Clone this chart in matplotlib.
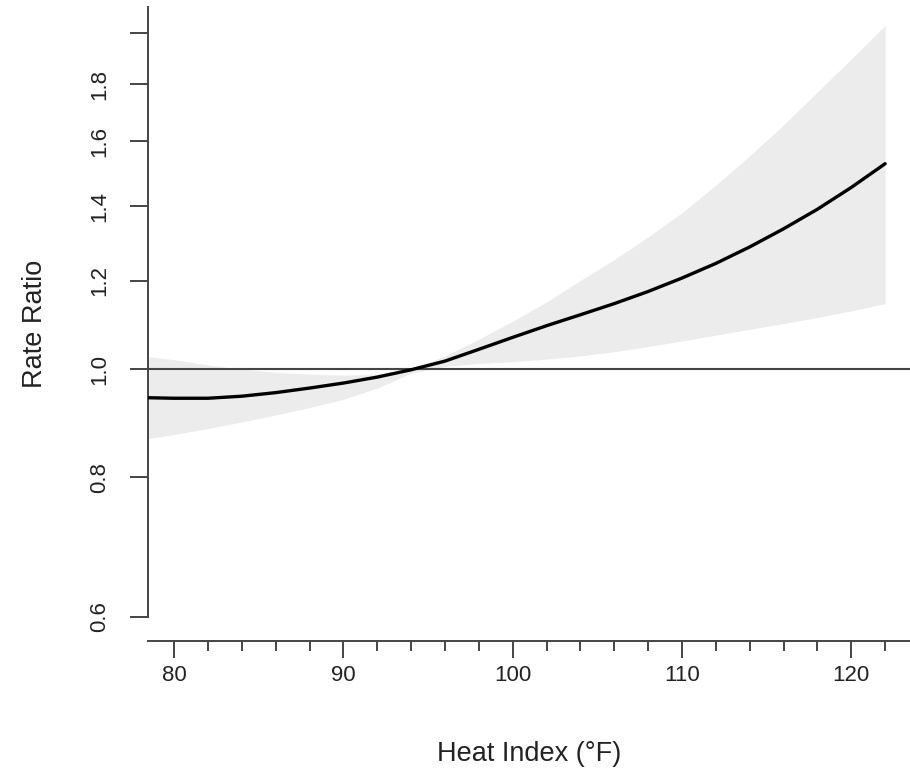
import matplotlib
matplotlib.use("Agg")
import matplotlib.pyplot as plt
from matplotlib.ticker import FixedLocator, NullLocator, FixedFormatter

plt.rcParams['font.family'] = ['Liberation Sans', 'DejaVu Sans']

# estimated rate ratio curve and 95% CI
heat_index = [78.5, 80, 82, 84, 86, 88, 90, 92, 94, 96, 98, 100, 102, 104,
              106, 108, 110, 112, 114, 116, 118, 120, 122]
rr = [0.943, 0.942, 0.942, 0.946, 0.953, 0.962, 0.972, 0.984, 0.999, 1.017,
      1.042, 1.068, 1.094, 1.119, 1.145, 1.174, 1.207, 1.244, 1.287, 1.336,
      1.391, 1.455, 1.528]
rr_upper = [1.026, 1.020, 1.009, 1.000, 0.994, 0.990, 0.988, 0.990, 1.000,
            1.028, 1.064, 1.104, 1.149, 1.201, 1.254, 1.314, 1.381, 1.462,
            1.553, 1.655, 1.772, 1.896, 2.032]
rr_lower = [0.867, 0.874, 0.885, 0.897, 0.910, 0.924, 0.940, 0.962, 0.992,
            1.006, 1.012, 1.016, 1.021, 1.028, 1.037, 1.048, 1.060, 1.073,
            1.086, 1.099, 1.113, 1.128, 1.145]

y_ticks = [0.6, 0.8, 1.0, 1.2, 1.4, 1.6, 1.8, 2.0]
y_labels = ["0.6", "0.8", "1.0", "1.2", "1.4", "1.6", "1.8", ""]
x_ticks = [80, 90, 100, 110, 120]
x_minor = [82, 84, 86, 88, 92, 94, 96, 98, 102, 104, 106, 108, 112, 114,
           116, 118, 122]

axis_col = "#444444"
text_col = "#222222"

fig = plt.figure(figsize=(9.1, 7.75), dpi=100)
ax = fig.add_axes([148 / 910, 1 - 641 / 775, 1 - 148 / 910, (641 - 7) / 775])

ax.fill_between(heat_index, rr_lower, rr_upper, color="#ececec", lw=0)
ax.axhline(1.0, color=axis_col, lw=1.5, zorder=2)
ax.plot(heat_index, rr, color="black", lw=2.4, solid_capstyle="round", zorder=3)

ax.set_yscale("log")
ax.set_xlim(78.46, 123.47)
ax.set_ylim(0.571, 2.111)

ax.yaxis.set_major_locator(FixedLocator(y_ticks))
ax.yaxis.set_major_formatter(FixedFormatter(y_labels))
ax.yaxis.set_minor_locator(NullLocator())
ax.xaxis.set_major_locator(FixedLocator(x_ticks))
ax.xaxis.set_minor_locator(FixedLocator(x_minor))

for side in ["top", "right"]:
    ax.spines[side].set_visible(False)
for side in ["left", "bottom"]:
    ax.spines[side].set_color(axis_col)
    ax.spines[side].set_linewidth(1.4)
ax.spines["left"].set_bounds(0.6, 2.111)

ax.tick_params(axis="y", which="major", length=13, width=1.4, color=axis_col,
               labelsize=16, labelcolor=text_col, pad=14, labelrotation=90)
ax.tick_params(axis="x", which="major", length=12, width=1.4, color=axis_col,
               labelsize=16, labelcolor=text_col, pad=5)
ax.tick_params(axis="x", which="minor", length=7, width=1.4, color=axis_col)
for lab in ax.get_yticklabels():
    lab.set_va("center")

ax.set_xlabel("Heat Index (°F)", fontsize=19.5, color=text_col, labelpad=40)
ax.set_ylabel("Rate Ratio", fontsize=19.5, color=text_col, labelpad=30)

fig.savefig("out.png", dpi=100)
